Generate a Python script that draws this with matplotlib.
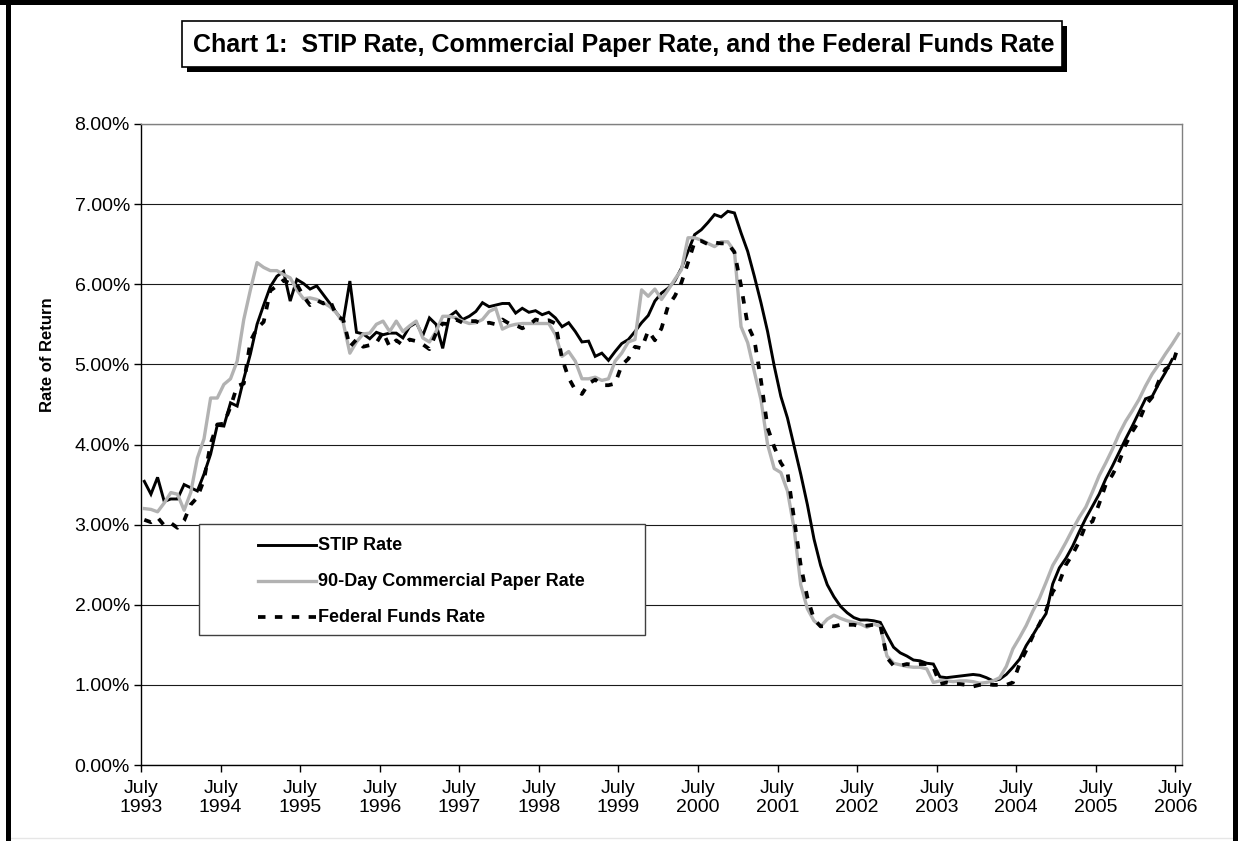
import matplotlib

matplotlib.use("Agg")

import matplotlib.pyplot as plt
import numpy as np
from matplotlib.lines import Line2D
from matplotlib.patches import Rectangle

# monthly values, July 1993 onwards (percent)
stip_rate = [
    3.54, 3.38, 3.59, 3.29, 3.32, 3.32, 3.50, 3.46, 3.42, 3.63, 3.88, 4.24,
    4.23, 4.52, 4.48, 4.82, 5.13, 5.50, 5.74, 5.97, 6.10, 6.16, 5.79, 6.06,
    6.01, 5.94, 5.98, 5.87, 5.76, 5.64, 5.54, 6.04, 5.40, 5.38, 5.32, 5.40,
    5.37, 5.39, 5.39, 5.33, 5.47, 5.52, 5.36, 5.58, 5.50, 5.20, 5.60, 5.66,
    5.56, 5.60, 5.66, 5.77, 5.72, 5.74, 5.76, 5.76, 5.64, 5.70, 5.65, 5.67,
    5.62, 5.65, 5.58, 5.47, 5.52, 5.41, 5.28, 5.29, 5.10, 5.14, 5.05, 5.16,
    5.26, 5.31, 5.41, 5.52, 5.61, 5.79, 5.89, 5.95, 6.04, 6.20, 6.41, 6.62,
    6.68, 6.77, 6.87, 6.84, 6.91, 6.89, 6.64, 6.41, 6.10, 5.77, 5.41, 4.98,
    4.60, 4.33, 3.98, 3.63, 3.25, 2.82, 2.49, 2.25, 2.10, 1.98, 1.90, 1.84,
    1.81, 1.81, 1.80, 1.78, 1.62, 1.47, 1.40, 1.36, 1.31, 1.30, 1.27, 1.26,
    1.10, 1.09, 1.10, 1.11, 1.12, 1.13, 1.12, 1.09, 1.05, 1.07, 1.13, 1.22,
    1.32, 1.49, 1.62, 1.76, 1.89, 2.26, 2.46, 2.58, 2.73, 2.91, 3.08, 3.23,
    3.38, 3.57, 3.73, 3.90, 4.07, 4.23, 4.40, 4.57, 4.60, 4.76, 4.90, 5.06,
]

cp_rate = [
    3.20, 3.19, 3.16, 3.27, 3.40, 3.38, 3.18, 3.40, 3.83, 4.07, 4.58, 4.58,
    4.75, 4.82, 5.04, 5.56, 5.93, 6.27, 6.21, 6.17, 6.17, 6.12, 6.08, 5.93,
    5.82, 5.83, 5.81, 5.77, 5.72, 5.64, 5.52, 5.14, 5.28, 5.38, 5.39, 5.50,
    5.54, 5.41, 5.54, 5.41, 5.48, 5.54, 5.33, 5.28, 5.41, 5.60, 5.60, 5.58,
    5.54, 5.51, 5.52, 5.56, 5.66, 5.70, 5.44, 5.48, 5.50, 5.51, 5.51, 5.51,
    5.51, 5.51, 5.37, 5.10, 5.16, 5.04, 4.82, 4.82, 4.84, 4.80, 4.82, 5.04,
    5.14, 5.28, 5.31, 5.93, 5.85, 5.94, 5.81, 5.93, 6.06, 6.18, 6.58, 6.58,
    6.55, 6.51, 6.47, 6.53, 6.53, 6.41, 5.47, 5.27, 4.91, 4.56, 4.00, 3.70,
    3.65, 3.42, 2.95, 2.25, 1.95, 1.80, 1.73, 1.82, 1.87, 1.83, 1.80, 1.78,
    1.76, 1.72, 1.76, 1.73, 1.36, 1.27, 1.25, 1.23, 1.22, 1.22, 1.20, 1.03,
    1.05, 1.05, 1.04, 1.05, 1.05, 1.04, 1.02, 1.03, 1.05, 1.09, 1.23, 1.45,
    1.59, 1.74, 1.92, 2.08, 2.28, 2.49, 2.63, 2.78, 2.94, 3.09, 3.22, 3.41,
    3.61, 3.77, 3.94, 4.13, 4.29, 4.42, 4.56, 4.73, 4.88, 5.00, 5.13, 5.25,
    5.38,
]

fed_funds_rate = [
    3.06, 3.03, 3.09, 2.99, 3.02, 2.96, 3.05, 3.25, 3.34, 3.56, 4.01, 4.25,
    4.26, 4.47, 4.73, 4.76, 5.29, 5.45, 5.53, 5.92, 5.98, 6.05, 6.01, 6.00,
    5.85, 5.74, 5.80, 5.76, 5.80, 5.60, 5.56, 5.22, 5.31, 5.22, 5.24, 5.27,
    5.40, 5.22, 5.30, 5.24, 5.31, 5.29, 5.25, 5.19, 5.39, 5.51, 5.50, 5.56,
    5.52, 5.54, 5.54, 5.50, 5.52, 5.50, 5.56, 5.51, 5.49, 5.45, 5.49, 5.56,
    5.54, 5.55, 5.51, 5.07, 4.83, 4.68, 4.63, 4.76, 4.81, 4.74, 4.74, 4.76,
    4.99, 5.07, 5.22, 5.20, 5.42, 5.30, 5.45, 5.73, 5.85, 6.02, 6.27, 6.53,
    6.54, 6.50, 6.52, 6.51, 6.51, 6.40, 5.98, 5.49, 5.31, 4.80, 4.21, 3.97,
    3.77, 3.65, 3.07, 2.49, 2.09, 1.82, 1.73, 1.74, 1.73, 1.75, 1.75, 1.75,
    1.73, 1.74, 1.75, 1.75, 1.34, 1.24, 1.24, 1.26, 1.25, 1.26, 1.26, 1.22,
    1.01, 1.03, 1.01, 1.01, 1.00, 0.98, 1.00, 1.01, 1.00, 1.00, 1.00, 1.03,
    1.26, 1.43, 1.61, 1.76, 1.93, 2.16, 2.28, 2.50, 2.63, 2.79, 3.00, 3.04,
    3.26, 3.50, 3.62, 3.78, 4.00, 4.16, 4.29, 4.49, 4.59, 4.79, 4.94, 4.99,
    5.24,
]

years = list(range(1993, 2007))
tick_labels = [f"July\n{y}" for y in years]
series_labels = ["STIP Rate", "90-Day Commercial Paper Rate", "Federal Funds Rate"]
title = "Chart 1:  STIP Rate, Commercial Paper Rate, and the Federal Funds Rate"

W, H = 1238, 841
FONT = "Liberation Sans"
CP_GREY = "#b2b2b2"


def fx(px):
    return px / W


def fy(py):
    return 1 - py / H


fig = plt.figure(figsize=(W / 100, H / 100), dpi=100)
fig.patch.set_facecolor("white")

ax = fig.add_axes([fx(141), fy(765), fx(1182) - fx(141), fy(124) - fy(765)])

n_cat = len(cp_rate)
ax.plot(np.arange(len(stip_rate)) + 0.5, stip_rate, color="black", lw=2.1,
        solid_joinstyle="miter", zorder=3)
ax.plot(np.arange(len(cp_rate)) + 0.5, cp_rate, color=CP_GREY, lw=2.4, zorder=4)
ax.plot(np.arange(len(fed_funds_rate)) + 0.5, fed_funds_rate, color="black",
        lw=2.7, dashes=(2.0, 2.5), dash_capstyle="butt", zorder=5)

ax.set_xlim(0, n_cat)
ax.set_ylim(0, 8)
ax.set_yticks(np.arange(0, 9))
ax.set_yticklabels([f"{v:.2f}%" for v in range(0, 9)], fontsize=14, family=FONT)
ax.set_xticks(np.arange(0, 12 * len(years), 12))
ax.set_xticklabels(tick_labels, fontsize=14, family=FONT, linespacing=1.15)
ax.tick_params(axis="both", direction="out", length=5, width=1, color="black")
ax.tick_params(axis="y", pad=3)
ax.tick_params(axis="x", pad=6)
ax.yaxis.grid(True, color="#1a1a1a", lw=0.8)
ax.set_axisbelow(True)
for side in ("left", "bottom"):
    ax.spines[side].set_color("black")
    ax.spines[side].set_linewidth(1.0)
for side in ("top", "right"):
    ax.spines[side].set_color("#808080")
    ax.spines[side].set_linewidth(1.0)

fig.text(fx(47), fy(355), "Rate of Return", rotation=90, ha="center", va="center",
         fontsize=12, fontweight="bold", family=FONT)

# legend box drawn by hand so it keeps the wide Excel look
fig.add_artist(Rectangle((fx(199), fy(635)), fx(645) - fx(199), fy(524) - fy(635),
                         transform=fig.transFigure, facecolor="white",
                         edgecolor="#404040", lw=1.0, zorder=10))
styles = [
    dict(color="black", lw=2.1),
    dict(color=CP_GREY, lw=2.4),
    dict(color="black", lw=2.7, dashes=(2.0, 2.5), dash_capstyle="butt"),
]
for row, (label, style) in enumerate(zip(series_labels, styles)):
    yy = fy(545 + row * 36)
    fig.add_artist(Line2D([fx(258), fx(316)], [yy, yy], transform=fig.transFigure,
                          zorder=11, **style))
    fig.text(fx(318), yy, label, ha="left", va="center", fontsize=13,
             fontweight="bold", family=FONT, zorder=12)

# title box with drop shadow
bx0, bx1, by0, by1 = 182, 1062, 21, 67
fig.add_artist(Rectangle((fx(bx0 + 5), fy(by1 + 5)), fx(bx1) - fx(bx0), fy(by0) - fy(by1),
                         transform=fig.transFigure, facecolor="black",
                         edgecolor="black", lw=0, zorder=10))
fig.add_artist(Rectangle((fx(bx0), fy(by1)), fx(bx1) - fx(bx0), fy(by0) - fy(by1),
                         transform=fig.transFigure, facecolor="white",
                         edgecolor="black", lw=1.2, zorder=11))
fig.text(fx((bx0 + bx1) / 2 + 2), fy((by0 + by1) / 2 + 1), title, ha="center",
         va="center", fontsize=18, fontweight="bold", family=FONT, zorder=12)

# outer chart border (open at the bottom, faint rule there)
fig.add_artist(Line2D([fx(10), fx(1233)], [fy(838), fy(838)], transform=fig.transFigure,
                      color="#e6e6e6", lw=1.0))
for xs, ys in [([8, 8], [0, H]), ([0, W], [2, 2]), ([1235, 1235], [0, H])]:
    fig.add_artist(Line2D([fx(v) for v in xs], [fy(v) for v in ys],
                          transform=fig.transFigure, color="black", lw=3.6))

fig.savefig("out.png", dpi=100)
